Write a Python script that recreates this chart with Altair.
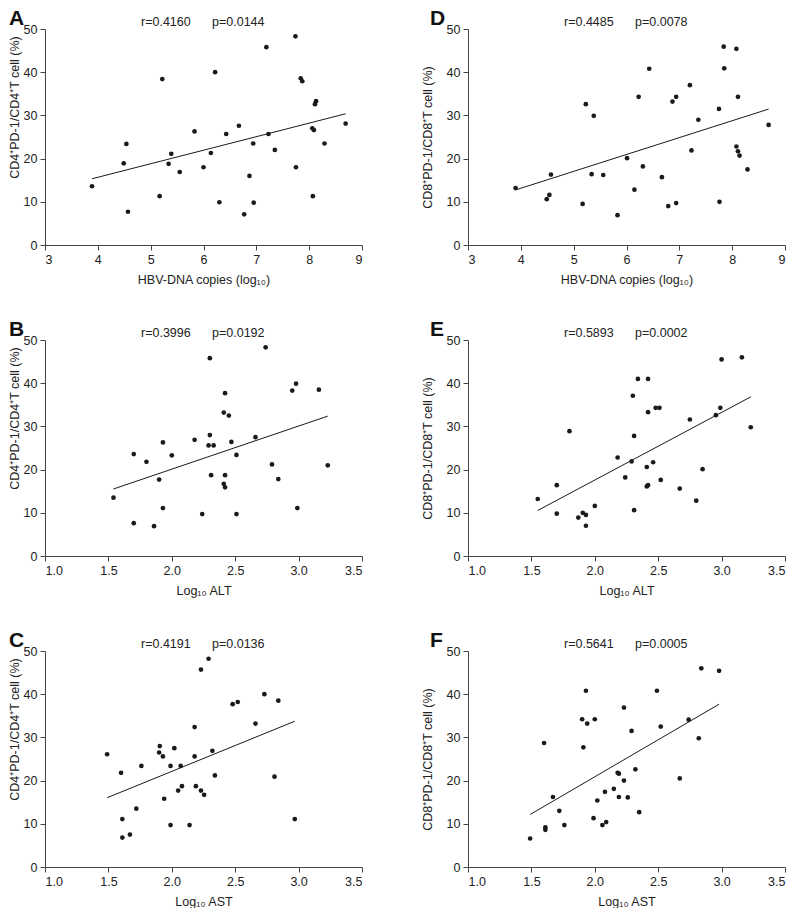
import altair as alt
import pandas as pd

# ---- data ----
hbv_cd4_x = [3.89, 4.49, 4.54, 4.57, 5.17, 5.22, 5.34, 5.39, 5.55, 5.83, 6.00, 6.14, 6.22, 6.30, 6.43, 6.67, 6.77,
             6.87, 6.94, 6.95, 7.19, 7.23, 7.35, 7.74, 7.75, 7.84, 7.87, 8.06, 8.07, 8.09, 8.11, 8.13, 8.29, 8.69]
hbv_cd4_y = [13.6, 18.9, 23.4, 7.7, 11.3, 38.4, 18.8, 21.1, 16.9, 26.3, 18.0, 21.3, 40.0, 9.9, 25.7, 27.6, 7.1,
             16.0, 23.5, 9.8, 45.8, 25.7, 22.0, 48.3, 18.0, 38.6, 37.9, 27.0, 11.3, 26.6, 32.6, 33.3, 23.5, 28.1]

hbv_cd8_x = [3.90, 4.49, 4.54, 4.57, 5.17, 5.23, 5.34, 5.38, 5.56, 5.83, 6.01, 6.15, 6.23, 6.31, 6.43, 6.67, 6.79,
             6.87, 6.94, 6.94, 7.20, 7.23, 7.36, 7.75, 7.76, 7.84, 7.85, 8.08, 8.08, 8.11, 8.11, 8.14, 8.29, 8.69]
hbv_cd8_y = [13.2, 10.6, 11.6, 16.3, 9.5, 32.6, 16.4, 29.9, 16.2, 6.9, 20.1, 12.8, 34.3, 18.2, 40.8, 15.7, 9.0,
             33.2, 34.3, 9.7, 37.0, 21.9, 29.0, 31.5, 10.0, 45.9, 40.9, 45.4, 22.8, 34.3, 21.7, 20.7, 17.5, 27.8]

alt_cd4_x = [1.54, 1.70, 1.70, 1.80, 1.86, 1.90, 1.93, 1.93, 2.00, 2.18, 2.24, 2.29, 2.30, 2.30, 2.31, 2.33, 2.41,
             2.42, 2.41, 2.42, 2.42, 2.45, 2.47, 2.51, 2.51, 2.66, 2.74, 2.79, 2.84, 2.95, 2.98, 2.99, 3.16, 3.23]
alt_cd4_y = [13.5, 23.6, 7.6, 21.8, 6.9, 17.7, 26.3, 11.1, 23.3, 26.9, 9.7, 25.6, 45.8, 28.0, 18.7, 25.6, 33.2,
             37.7, 16.7, 18.7, 15.9, 32.5, 26.4, 9.7, 23.4, 27.5, 48.3, 21.2, 17.8, 38.3, 39.9, 11.1, 38.5, 21.0]

alt_cd8_x = [1.55, 1.70, 1.70, 1.80, 1.87, 1.905, 1.93, 1.93, 2.00, 2.18, 2.24, 2.29, 2.30, 2.31, 2.31, 2.34, 2.41,
             2.41, 2.42, 2.42, 2.42, 2.46, 2.48, 2.51, 2.52, 2.67, 2.75, 2.80, 2.85, 2.955, 2.99, 3.00, 3.16, 3.23]
alt_cd8_y = [13.2, 16.4, 9.8, 28.9, 8.9, 10.0, 9.5, 7.0, 11.6, 22.8, 18.2, 21.9, 37.1, 27.8, 10.6, 41.0, 20.6,
             16.1, 16.4, 41.0, 33.3, 21.7, 34.3, 34.3, 17.6, 15.6, 31.6, 12.8, 20.1, 32.6, 34.3, 45.5, 46.0, 29.8]

ast_cd4_x = [1.49, 1.60, 1.61, 1.61, 1.67, 1.72, 1.76, 1.905, 1.90, 1.93, 1.94, 1.99, 1.99, 2.02, 2.05, 2.07, 2.08,
             2.14, 2.18, 2.18, 2.19, 2.23, 2.23, 2.255, 2.29, 2.32, 2.34, 2.48, 2.52, 2.66, 2.73, 2.81, 2.84, 2.97]
ast_cd4_y = [26.1, 21.8, 11.1, 6.8, 7.5, 13.5, 23.4, 28.0, 26.5, 25.6, 15.8, 23.4, 9.7, 27.5, 17.7, 23.4, 18.7,
             9.7, 32.4, 25.6, 18.7, 17.7, 45.7, 16.7, 48.2, 26.9, 21.2, 37.7, 38.2, 33.2, 40.0, 20.9, 38.5, 11.1]

ast_cd8_x = [1.49, 1.60, 1.61, 1.61, 1.67, 1.72, 1.76, 1.90, 1.91, 1.93, 1.94, 1.99, 2.00, 2.02, 2.06, 2.08, 2.09,
             2.15, 2.18, 2.19, 2.19, 2.23, 2.23, 2.26, 2.29, 2.32, 2.35, 2.49, 2.52, 2.67, 2.74, 2.82, 2.84, 2.98]
ast_cd8_y = [6.6, 28.7, 9.2, 8.6, 16.2, 13.0, 9.7, 34.2, 27.7, 40.8, 33.2, 11.3, 34.2, 15.4, 9.7, 17.4, 10.4,
             18.1, 21.8, 21.6, 16.2, 20.0, 36.9, 16.1, 31.5, 22.6, 12.7, 40.8, 32.5, 20.5, 34.1, 29.8, 46.0, 45.4]

panel_letters = ["A", "D", "B", "E", "C", "F"]
r_labels = ["r=0.4160", "r=0.4485", "r=0.3996", "r=0.5893", "r=0.4191", "r=0.5641"]
p_labels = ["p=0.0144", "p=0.0078", "p=0.0192", "p=0.0002", "p=0.0136", "p=0.0005"]
x_titles = ["HBV-DNA copies (log\u2081\u2080)", "Log\u2081\u2080 ALT", "Log\u2081\u2080 AST"]
y_title_cd4 = "CD4\u207aPD-1/CD4\u207aT cell (%)"
y_title_cd8 = "CD8\u207aPD-1/CD8\u207aT cell (%)"
hbv_ticks = [3, 4, 5, 6, 7, 8, 9]
enz_ticks = [1.0, 1.5, 2.0, 2.5, 3.0, 3.5]
y_ticks = [0, 10, 20, 30, 40, 50]

W, H = 317, 216
FONT = "Liberation Sans"
INK = "#1a1a1a"


def panel(xs, ys, letter, r_txt, p_txt, xdomain, xticks, xfmt, xtitle, ytitle, left):
    df = pd.DataFrame({"x": xs, "y": ys})
    base = alt.Chart(df)
    xenc = alt.X(
        "x:Q",
        scale=alt.Scale(domain=xdomain, nice=False, zero=False),
        axis=alt.Axis(values=xticks, format=xfmt, title=xtitle, titleY=34,
                      titleBaseline="middle", titleAlign="center"),
    )
    yenc = alt.Y(
        "y:Q",
        scale=alt.Scale(domain=[0, 50], nice=False),
        axis=alt.Axis(values=y_ticks, format="d", title=ytitle, titleAngle=-90,
                      titleX=-31 if left else -41, titleY=(H / 2 - 30) if left else H / 2,
                      titleBaseline="middle", titleAlign="center"),
    )
    pts = base.mark_circle(size=22, color=INK, opacity=1).encode(x=xenc, y=yenc)
    line = base.transform_regression("x", "y").mark_line(color=INK, strokeWidth=1).encode(
        x="x:Q", y="y:Q")
    rt = alt.Chart(pd.DataFrame({"t": [r_txt]})).mark_text(
        align="left", baseline="middle", fontSize=12.5, font=FONT, color="#222").encode(
        x=alt.value(96), y=alt.value(-7), text="t:N")
    pt = alt.Chart(pd.DataFrame({"t": [p_txt]})).mark_text(
        align="left", baseline="middle", fontSize=12.5, font=FONT, color="#222").encode(
        x=alt.value(167), y=alt.value(-7), text="t:N")
    lt = alt.Chart(pd.DataFrame({"t": [letter]})).mark_text(
        align="left", baseline="top", fontSize=21, fontWeight="bold", font=FONT, color="#111").encode(
        x=alt.value(-36 if left else -38), y=alt.value(-21), text="t:N")
    return alt.layer(pts, line, rt, pt, lt).properties(width=W, height=H)


pA = panel(hbv_cd4_x, hbv_cd4_y, panel_letters[0], r_labels[0], p_labels[0], [3, 9], hbv_ticks, "d",
           x_titles[0], y_title_cd4, True)
pD = panel(hbv_cd8_x, hbv_cd8_y, panel_letters[1], r_labels[1], p_labels[1], [3, 9], hbv_ticks, "d",
           x_titles[0], y_title_cd8, False)
pB = panel(alt_cd4_x, alt_cd4_y, panel_letters[2], r_labels[2], p_labels[2], [1, 3.5], enz_ticks, ".1f",
           x_titles[1], y_title_cd4, True)
pE = panel(alt_cd8_x, alt_cd8_y, panel_letters[3], r_labels[3], p_labels[3], [1, 3.5], enz_ticks, ".1f",
           x_titles[1], y_title_cd8, False)
pC = panel(ast_cd4_x, ast_cd4_y, panel_letters[4], r_labels[4], p_labels[4], [1, 3.5], enz_ticks, ".1f",
           x_titles[2], y_title_cd4, True)
pF = panel(ast_cd8_x, ast_cd8_y, panel_letters[5], r_labels[5], p_labels[5], [1, 3.5], enz_ticks, ".1f",
           x_titles[2], y_title_cd8, False)

chart = alt.concat(
    pA, pD, pB, pE, pC, pF, columns=2,
    spacing=alt.RowColnumber(row=95, column=106), bounds="flush"
).properties(
    padding=0, background="white"
).configure_view(stroke=None).configure_axis(
    grid=False,
    domainColor="#444",
    tickColor="#444",
    domainWidth=1,
    tickWidth=1,
    tickSize=5,
    labelFont=FONT,
    labelFontSize=12.5,
    labelColor="#222",
    labelPadding=3,
    titleFont=FONT,
    titleFontSize=12.5,
    titleFontWeight="normal",
    titleColor="#222",
)

chart.save("out.html", embed_options={"renderer": "svg", "actions": False})
